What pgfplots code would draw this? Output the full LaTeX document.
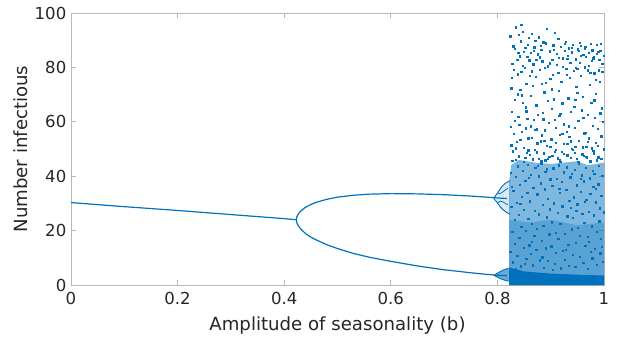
\documentclass[border=0pt]{standalone}
\usepackage{fontspec}
\setmainfont{DejaVu Sans}
\usepackage{pgfplots}
\pgfplotsset{compat=1.18}
\definecolor{mblue}{rgb}{0,0.447,0.741}
\definecolor{axgray}{gray}{0.72}
\definecolor{txtgray}{gray}{0.15}
\begin{document}
\begin{tikzpicture}
\useasboundingbox (-53.25pt,-39pt) rectangle (410.25pt,213.75pt);
\begin{axis}[
 at={(0,0)}, anchor=south west,
 scale only axis, width=399.75pt, height=204pt,
 xmin=0,xmax=1,ymin=0,ymax=100,
 xtick={0,0.2,0.4,0.6,0.8,1}, ytick={0,20,40,60,80,100},
 xticklabels={0,0.2,0.4,0.6,0.8,1},
 tick align=inside, tick pos=both,
 major tick length=3.5pt,
 axis line style={axgray, line width=0.5pt},
 tick style={axgray, line width=0.5pt},
 ticklabel style={font=\fontsize{12.4}{14}\selectfont, text=txtgray},
 xticklabel style={yshift=-1.8pt},
 /pgf/number format/assume math mode=true,
 xlabel={Amplitude of seasonality (b)},
 ylabel={Number infectious},
 every axis x label/.style={at={(axis description cs:0.5,0)}, yshift=-33.75pt, anchor=base, font=\fontsize{13.6}{16}\selectfont, text=txtgray},
 every axis y label/.style={at={(axis description cs:0,0.5)}, xshift=-32.25pt, rotate=90, anchor=base, font=\fontsize{13.6}{16}\selectfont, text=txtgray},
]
% density layers of the chaotic region
\addplot[fill=mblue, fill opacity=0.5, draw=none] coordinates {(0.822,0)(0.822,38)(0.826,44)(0.84,46)(0.87,45)(0.9,44.5)(0.95,45.5)(0.97,44)(1,45)(1,0)};
\addplot[fill=mblue, fill opacity=0.3, draw=none] coordinates {(0.822,0)(0.822,24)(0.86,23)(0.9,24)(0.95,22)(1,23)(1,0)};
\addplot[fill=mblue, draw=none] coordinates {(0.822,0)(0.822,6.5)(0.83,6)(0.85,5)(0.9,4.2)(0.95,3.8)(1,3.5)(1,0)};
% period-doubling fans
\addplot[fill=mblue, fill opacity=0.15, draw=none] coordinates {(0.793,31.9)(0.80,33.8)(0.805,35.3)(0.81,36.5)(0.815,37.4)(0.82,38.0)(0.824,38.3)(0.824,26.0)(0.82,26.4)(0.815,27.0)(0.81,27.8)(0.805,28.8)(0.80,30.2)};
\addplot[fill=mblue, fill opacity=0.6, draw=none] coordinates {(0.793,3.6)(0.80,4.3)(0.805,4.9)(0.81,5.4)(0.815,5.8)(0.822,6.3)(0.822,1.2)(0.815,1.7)(0.81,2.0)(0.805,2.4)(0.80,2.9)};
% main branches
\addplot[mblue, line width=0.9pt] coordinates {(0,30.3)(0.1,28.8)(0.2,27.4)(0.3,25.9)(0.4,24.4)(0.423,24.0)};
\addplot[mblue, line width=0.9pt] coordinates {(0.423,24.0)(0.4235,25.0)(0.425,25.6)(0.43,27.0)(0.44,28.6)(0.45,29.6)(0.46,30.4)(0.48,31.5)(0.5,32.3)(0.53,33.0)(0.56,33.4)(0.6,33.6)(0.65,33.5)(0.7,33.2)(0.75,32.7)(0.78,32.3)(0.80,32.0)(0.818,31.8)};
\addplot[mblue, line width=0.9pt] coordinates {(0.423,24.0)(0.4235,23.0)(0.425,22.3)(0.43,20.8)(0.44,18.9)(0.45,17.6)(0.46,16.6)(0.48,14.8)(0.5,13.4)(0.53,11.6)(0.56,10.2)(0.6,8.7)(0.65,7.0)(0.7,5.6)(0.75,4.5)(0.78,3.9)(0.80,3.6)(0.818,3.4)};
\addplot[mblue, line width=0.7pt] coordinates {(0.793,31.9)(0.80,33.8)(0.805,35.3)(0.81,36.5)(0.815,37.4)(0.82,38.0)(0.824,38.3)};
\addplot[mblue, line width=0.6pt] coordinates {(0.80,33.8)(0.805,33.6)(0.81,34.2)(0.815,35.0)(0.82,35.6)};
\addplot[mblue, line width=0.7pt] coordinates {(0.793,31.9)(0.80,30.2)(0.805,28.8)(0.81,27.8)(0.815,27.0)(0.82,26.4)(0.824,26.0)};
\addplot[mblue, line width=0.6pt] coordinates {(0.80,30.2)(0.805,30.8)(0.81,30.6)(0.815,30.0)(0.82,29.4)};
\addplot[mblue, line width=0.7pt] coordinates {(0.793,3.6)(0.80,4.3)(0.805,4.9)(0.81,5.4)(0.815,5.8)(0.82,6.1)};
\addplot[mblue, line width=0.7pt] coordinates {(0.793,3.6)(0.80,2.9)(0.805,2.4)(0.81,2.0)(0.815,1.7)(0.82,1.5)};
% chaotic scatter, upper part
\addplot[only marks, mblue, mark=square*, mark size=0.5pt, mark options={draw=none, fill=mblue}] coordinates {
(0.824,91.5)(0.826,72.3)(0.825,58.1)(0.827,63.7)(0.829,49.2)(0.831,55.6)(0.828,81.4)(0.833,86.9)(0.835,94.8)(0.832,68.2)(0.836,52.7)(0.838,77.5)(0.84,47.3)(0.842,84.1)(0.839,61.9)(0.844,89.6)(0.846,56.4)(0.843,71.8)(0.848,93.2)(0.849,50.5)(0.851,79.9)(0.853,65.3)(0.85,85.7)(0.855,48.6)(0.857,88.2)(0.854,74.1)(0.858,53.9)(0.86,82.6)(0.834,46.1)(0.837,82.9)(0.841,58.8)(0.845,78.3)(0.847,66.9)(0.852,46.9)(0.856,61.2)(0.859,90.8)(0.83,87.8)(0.826,51.4)(0.845,95.6)(0.852,87.1)
(0.861,47.9)(0.863,69.5)(0.862,85.3)(0.865,54.2)(0.867,81.1)(0.864,92.4)(0.868,60.7)(0.87,49.8)(0.872,76.6)(0.869,87.4)(0.874,57.3)(0.876,84.8)(0.873,66.1)(0.878,46.5)(0.879,79.2)(0.877,91.1)(0.881,52.8)(0.883,73.9)(0.882,86.6)(0.885,63.4)(0.887,48.4)(0.884,82.2)(0.889,56.9)(0.891,88.9)(0.888,70.8)(0.893,51.3)(0.894,80.4)(0.892,94.1)(0.896,59.6)(0.898,85.9)(0.897,47.2)(0.899,75.7)(0.866,73.2)(0.871,89.9)(0.875,52.1)(0.88,83.7)(0.886,89.3)(0.89,45.8)(0.895,67.7)(0.862,58.4)
(0.901,53.6)(0.903,82.7)(0.902,64.9)(0.905,88.1)(0.907,49.1)(0.904,77.3)(0.909,57.7)(0.911,85.1)(0.908,92.8)(0.913,46.6)(0.915,71.4)(0.912,80.9)(0.917,55.2)(0.919,87.5)(0.916,62.3)(0.921,48.9)(0.923,83.4)(0.92,74.6)(0.925,51.9)(0.927,86.2)(0.924,59.1)(0.929,79.6)(0.931,47.7)(0.928,89.4)(0.933,68.6)(0.935,54.5)(0.932,84.3)(0.937,81.8)(0.939,50.2)(0.936,76.2)(0.906,68.3)(0.914,90.6)(0.918,45.4)(0.922,66.8)(0.926,88.8)(0.93,56.3)(0.934,87.0)(0.938,63.8)(0.91,52.4)(0.94,85.6)
(0.941,49.6)(0.943,78.8)(0.942,88.4)(0.945,57.9)(0.947,83.0)(0.944,65.6)(0.949,46.3)(0.951,86.7)(0.948,72.9)(0.953,53.1)(0.955,81.6)(0.952,60.4)(0.957,88.0)(0.959,48.1)(0.956,76.9)(0.961,84.6)(0.963,55.8)(0.96,69.2)(0.965,87.7)(0.967,50.9)(0.964,80.1)(0.969,62.7)(0.971,85.4)(0.968,46.8)(0.973,73.6)(0.975,88.6)(0.972,54.0)(0.977,82.4)(0.979,58.6)(0.976,67.1)(0.946,50.8)(0.95,79.5)(0.954,89.1)(0.958,64.2)(0.962,47.5)(0.966,83.9)(0.97,52.6)(0.974,78.1)(0.978,86.3)(0.98,49.4)
(0.981,84.0)(0.983,61.5)(0.982,77.8)(0.985,52.3)(0.987,88.3)(0.984,70.3)(0.989,47.0)(0.991,82.8)(0.988,57.4)(0.993,86.0)(0.995,54.7)(0.992,74.8)(0.997,81.3)(0.999,49.9)(0.996,65.0)(0.986,45.9)(0.99,79.0)(0.994,88.7)(0.998,60.0)(0.986,84.9)
(0.828,45.6)(0.835,50.3)(0.843,53.4)(0.85,45.2)(0.858,49.5)(0.866,46.2)(0.874,48.8)(0.882,45.7)(0.888,53.0)(0.895,46.4)(0.903,47.4)(0.91,49.7)(0.917,46.0)(0.924,48.2)(0.931,52.0)(0.938,46.9)(0.945,48.6)(0.952,45.3)(0.96,50.7)(0.967,47.1)(0.974,45.5)(0.981,48.4)(0.988,51.1)(0.995,46.5)
(0.831,79.1)(0.839,85.4)(0.847,80.7)(0.856,83.8)(0.864,78.6)(0.873,82.9)(0.881,87.9)(0.889,79.8)(0.898,81.5)(0.906,86.4)(0.914,78.1)(0.923,80.2)(0.931,83.1)(0.939,87.2)(0.947,79.9)(0.956,84.2)(0.964,86.8)(0.972,80.6)(0.98,83.3)(0.989,85.7)(0.997,78.4)
(0.838,70.1)(0.854,63.9)(0.87,57.0)(0.886,60.9)(0.902,72.0)(0.918,63.0)(0.934,58.4)(0.95,70.6)(0.966,56.0)(0.982,67.9)
(0.827,76.2)(0.833,60.4)(0.84,91.9)(0.846,69.8)(0.853,57.6)(0.861,76.9)(0.868,86.0)(0.876,62.5)(0.883,55.1)(0.891,74.3)(0.899,50.9)(0.907,60.8)(0.915,83.6)(0.922,55.7)(0.93,77.4)(0.938,52.9)(0.946,68.0)(0.953,86.1)(0.961,61.4)(0.969,78.9)(0.977,50.3)(0.985,75.5)(0.993,63.1)(0.999,84.4)
};
% chaotic scatter, middle part
\addplot[only marks, mblue, mark=square*, mark size=0.5pt, mark options={draw=none, fill=mblue}] coordinates {
(0.824,12.3)(0.826,28.7)(0.825,41.2)(0.828,19.5)(0.83,34.6)(0.829,8.4)(0.832,23.9)(0.834,39.8)(0.833,15.1)(0.836,30.2)(0.838,43.6)(0.837,10.7)(0.84,25.8)(0.842,36.9)(0.841,17.4)(0.844,6.9)(0.846,32.5)(0.845,21.3)(0.848,42.1)(0.85,13.8)(0.849,27.6)(0.852,38.3)(0.854,9.6)(0.853,19.9)(0.856,34.0)(0.858,24.4)(0.857,44.3)(0.86,14.6)(0.827,36.1)(0.835,5.8)(0.843,29.9)(0.851,7.7)(0.859,39.4)
(0.861,30.8)(0.863,11.4)(0.862,40.5)(0.865,22.6)(0.867,35.7)(0.866,7.3)(0.869,18.1)(0.871,43.0)(0.87,27.2)(0.873,12.9)(0.875,33.3)(0.874,20.7)(0.877,40.0)(0.879,9.1)(0.878,26.0)(0.881,37.4)(0.883,16.3)(0.882,44.8)(0.885,29.4)(0.887,6.4)(0.886,21.8)(0.889,35.2)(0.891,13.5)(0.89,41.7)(0.893,24.9)(0.895,8.8)(0.894,31.6)(0.897,18.6)(0.899,38.9)(0.898,27.9)(0.864,15.8)(0.876,43.9)(0.884,10.2)(0.892,42.6)
(0.901,14.2)(0.903,36.4)(0.902,23.1)(0.905,42.9)(0.907,7.9)(0.906,30.1)(0.909,19.2)(0.911,39.1)(0.91,11.9)(0.913,26.6)(0.915,44.0)(0.914,16.9)(0.917,33.8)(0.919,6.2)(0.918,22.4)(0.921,37.9)(0.923,12.6)(0.922,29.0)(0.925,41.4)(0.927,18.9)(0.926,9.4)(0.929,34.9)(0.931,25.3)(0.93,43.3)(0.933,14.9)(0.935,31.0)(0.934,7.1)(0.937,39.6)(0.939,20.5)(0.938,28.4)(0.904,5.5)(0.916,35.3)(0.928,13.0)(0.94,40.8)
(0.941,11.1)(0.943,32.2)(0.942,24.7)(0.945,42.4)(0.947,15.6)(0.946,6.6)(0.949,36.7)(0.951,21.0)(0.95,29.7)(0.953,44.5)(0.955,10.4)(0.954,18.2)(0.957,34.3)(0.959,26.3)(0.958,40.3)(0.961,8.1)(0.963,22.9)(0.962,38.1)(0.965,14.4)(0.967,31.3)(0.966,43.1)(0.969,17.7)(0.971,27.0)(0.97,5.9)(0.973,39.3)(0.975,12.2)(0.974,33.6)(0.977,21.6)(0.979,42.0)(0.978,9.8)(0.948,27.3)(0.956,39.0)(0.964,30.5)(0.972,16.0)(0.98,36.0)
(0.981,25.6)(0.983,13.3)(0.982,41.0)(0.985,30.4)(0.987,19.6)(0.986,7.5)(0.989,37.0)(0.991,23.4)(0.99,43.8)(0.993,11.7)(0.995,32.8)(0.994,17.1)(0.997,40.2)(0.999,26.8)(0.998,8.6)(0.984,35.5)(0.992,28.2)(0.996,14.0)
};
\end{axis}
\end{tikzpicture}
\end{document}
